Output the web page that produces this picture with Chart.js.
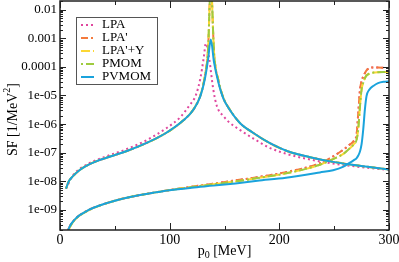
<!DOCTYPE html>
<html>
<head>
<meta charset="utf-8">
<script src="https://cdn.jsdelivr.net/npm/chart.js@4"></script>
<style>
html, body { margin: 0; padding: 0; background: #fff; }
#wrap { width: 399px; height: 262px; position: relative; }
</style>
</head>
<body>
<div id="wrap"><canvas id="sfChart"></canvas></div>
<script>
// pion-like branch (peak near 138 MeV)
var pionP0 = [5.5, 8, 12, 18, 24, 33, 43, 61, 79, 97, 112, 122, 128, 132, 135, 137.5, 140.5, 144.5, 149, 154, 164, 176, 191, 207, 228, 249, 273, 300];
var pionSfPVMOM = [5.6e-9, 1.0e-8, 1.55e-8, 2.5e-8, 3.5e-8, 5.0e-8, 6.8e-8, 1.15e-7, 2.2e-7, 5.0e-7, 1.3e-6, 3.3e-6, 9.5e-6, 3.6e-5, 1.8e-4, 9e-4, 1.4e-4, 2.8e-5, 7.8e-6, 3.5e-6, 1.1e-6, 5.0e-7, 2.2e-7, 1.15e-7, 7.0e-8, 4.8e-8, 3.5e-8, 2.6e-8];
var pionSfPMOM = [5.6e-9, 1.0e-8, 1.55e-8, 2.5e-8, 3.5e-8, 5.0e-8, 6.8e-8, 1.15e-7, 2.2e-7, 5.0e-7, 1.3e-6, 3.4e-6, 1.0e-5, 4.5e-5, 4.0e-4, 8e-2, 3.0e-4, 3.3e-5, 8.2e-6, 3.6e-6, 1.1e-6, 5.0e-7, 2.2e-7, 1.15e-7, 7.0e-8, 4.8e-8, 3.5e-8, 2.6e-8];
var pionP0LPA = [5.5, 12, 24, 42, 60, 79, 97, 110, 118, 124, 128, 131, 133, 136, 139.8, 143, 149, 155, 164, 176, 191, 207, 228, 249, 273, 300];
var pionSfLPA = [5.6e-9, 1.65e-8, 3.8e-8, 7.4e-8, 1.3e-7, 2.75e-7, 7.2e-7, 1.8e-6, 4.5e-6, 1.05e-5, 4.0e-5, 2.0e-4, 6.5e-4, 2.0e-4, 1.6e-5, 4.3e-6, 1.9e-6, 1.1e-6, 6.3e-7, 3.2e-7, 1.5e-7, 9e-8, 5.8e-8, 4.2e-8, 3.2e-8, 2.5e-8];

// sigma-like branch (threshold near 276 MeV)
var sigmaP0 = [7.5, 9, 11, 14, 18, 25, 30, 40, 50, 65, 80, 100, 120, 140, 160, 180, 206, 237, 249, 258, 264, 268, 270.5, 272, 273.5, 275, 276.5, 278, 279.5, 282, 286, 290, 295, 300];
var sigmaSfPVMOM = [2.0e-10, 2.7e-10, 3.6e-10, 4.9e-10, 6.6e-10, 9.5e-10, 1.17e-9, 1.62e-9, 2.1e-9, 2.9e-9, 3.7e-9, 4.9e-9, 6.0e-9, 7.1e-9, 8.5e-9, 1.05e-8, 1.35e-8, 2.05e-8, 2.45e-8, 3.2e-8, 4.4e-8, 5.5e-8, 6.5e-8, 8.0e-8, 1.1e-7, 2.0e-7, 6.5e-7, 3.2e-6, 9.5e-6, 1.6e-5, 2.2e-5, 2.7e-5, 3.0e-5, 3.1e-5];
var sigmaSfLPA = [2.0e-10, 2.7e-10, 3.6e-10, 4.9e-10, 6.6e-10, 9.5e-10, 1.17e-9, 1.62e-9, 2.1e-9, 2.9e-9, 3.7e-9, 5.0e-9, 6.5e-9, 8.3e-9, 1.08e-8, 1.4e-8, 2.1e-8, 4.3e-8, 7.4e-8, 1.25e-7, 1.9e-7, 2.6e-7, 4.5e-7, 2.5e-6, 1.5e-5, 3.2e-5, 4.5e-5, 6.0e-5, 7.6e-5, 9.0e-5, 9.5e-5, 9.5e-5, 9.3e-5, 9.0e-5];
var sigmaSfPMOM = [1.8e-10, 2.5e-10, 3.4e-10, 4.7e-10, 6.4e-10, 9.3e-10, 1.15e-9, 1.6e-9, 2.1e-9, 2.9e-9, 3.7e-9, 4.95e-9, 6.3e-9, 7.9e-9, 1.0e-8, 1.3e-8, 1.9e-8, 3.8e-8, 6.0e-8, 8.9e-8, 1.4e-7, 2.0e-7, 2.9e-7, 7.0e-7, 4.0e-6, 1.6e-5, 2.8e-5, 4.0e-5, 5.0e-5, 5.8e-5, 6.3e-5, 6.5e-5, 6.6e-5, 6.6e-5];

var xTickValues = [0, 50, 100, 150, 200, 250, 300];
var yTickValues = [1e-9, 1e-8, 1e-7, 1e-6, 1e-5, 1e-4, 1e-3, 1e-2];
var yTickLabels = ["1e-09", "1e-08", "1e-07", "1e-06", "1e-05", "0.0001", "0.001", "0.01"];

var serif = "'Liberation Serif', 'DejaVu Serif', serif";

function points(xs, ys) {
    return xs.map(function (x, i) { return { x: x, y: ys[i] }; });
}

var models = [
    { label: "LPA", color: "#e0479e", dash: [2, 3], order: 5, px: pionP0LPA, py: pionSfLPA, sy: sigmaSfLPA },
    { label: "LPA'", color: "#f47a3c", dash: [7, 3, 2, 3], order: 4, px: pionP0, py: pionSfPMOM, sy: sigmaSfLPA },
    { label: "LPA'+Y", color: "#fcd733", dash: [9, 3], order: 3, px: pionP0, py: pionSfPMOM, sy: sigmaSfPMOM },
    { label: "PMOM", color: "#9fcb3f", dash: [2, 3, 8, 3], order: 2, px: pionP0, py: pionSfPMOM, sy: sigmaSfPMOM },
    { label: "PVMOM", color: "#1aa3dc", dash: [], order: 1, px: pionP0, py: pionSfPVMOM, sy: sigmaSfPVMOM }
];

var datasets = [];
models.forEach(function (m) {
    [points(m.px, m.py), points(sigmaP0, m.sy)].forEach(function (d, k) {
        datasets.push({
            label: m.label,
            data: d,
            borderColor: m.color,
            borderDash: m.dash,
            borderWidth: 2,
            pointRadius: 0,
            fill: false,
            cubicInterpolationMode: "monotone",
            order: m.order,
            inLegend: k === 0
        });
    });
});

var framePlugin = {
    id: "frame",
    afterDraw: function (chart) {
        var ctx = chart.ctx;
        var a = chart.chartArea;
        var xs = chart.scales.x, ys = chart.scales.y;
        ctx.save();
        ctx.strokeStyle = "#222";
        ctx.lineWidth = 1;
        ctx.beginPath();
        xTickValues.forEach(function (v) {
            var px = Math.round(xs.getPixelForValue(v)) + 0.5;
            var len = v % 100 === 0 ? 7 : 4;
            ctx.moveTo(px, a.bottom); ctx.lineTo(px, a.bottom - len);
            ctx.moveTo(px, a.top); ctx.lineTo(px, a.top + len);
        });
        for (var e = -10; e <= -2; e++) {
            for (var k = 1; k <= 9; k++) {
                var v = k * Math.pow(10, e);
                if (v < ys.min || v > ys.max) continue;
                var py = Math.round(ys.getPixelForValue(v)) + 0.5;
                var len = k === 1 ? 6 : 3;
                ctx.moveTo(a.left, py); ctx.lineTo(a.left + len, py);
                ctx.moveTo(a.right, py); ctx.lineTo(a.right - len, py);
            }
        }
        ctx.stroke();
        ctx.lineWidth = 1.5;
        ctx.strokeRect(a.left, a.top, a.right - a.left, a.bottom - a.top);

        // axis titles
        ctx.fillStyle = "#000";
        ctx.textBaseline = "alphabetic";
        var big = "14px " + serif, small = "10px " + serif;
        ctx.font = big;
        var w1 = ctx.measureText("p").width, w3 = ctx.measureText(" [MeV]").width;
        ctx.font = small;
        var w2 = ctx.measureText("0").width;
        var x0 = (a.left + a.right) / 2 - (w1 + w2 + w3) / 2;
        ctx.textAlign = "left";
        ctx.font = big; ctx.fillText("p", x0, 255);
        ctx.font = small; ctx.fillText("0", x0 + w1, 258);
        ctx.font = big; ctx.fillText(" [MeV]", x0 + w1 + w2, 255);

        ctx.save();
        ctx.translate(17, (a.top + a.bottom) / 2 + 4);
        ctx.rotate(-Math.PI / 2);
        ctx.font = big;
        var t1 = ctx.measureText("SF [1/MeV").width, t3 = ctx.measureText("]").width;
        ctx.font = small;
        var t2 = ctx.measureText("2").width;
        var s0 = -(t1 + t2 + t3) / 2;
        ctx.font = big; ctx.fillText("SF [1/MeV", s0, 0);
        ctx.font = small; ctx.fillText("2", s0 + t1, -7);
        ctx.font = big; ctx.fillText("]", s0 + t1 + t2, 0);
        ctx.restore();

        // legend
        ctx.fillStyle = "#fff";
        ctx.fillRect(76.5, 17.5, 81, 67);
        ctx.strokeStyle = "#555";
        ctx.lineWidth = 1;
        ctx.strokeRect(76.5, 17.5, 81, 67);
        var row = 0;
        chart.data.datasets.forEach(function (ds) {
            if (!ds.inLegend) return;
            var y = 25 + row * 13;
            ctx.strokeStyle = ds.borderColor;
            ctx.lineWidth = 2;
            ctx.setLineDash(ds.borderDash);
            ctx.beginPath();
            ctx.moveTo(81, y); ctx.lineTo(94, y);
            ctx.stroke();
            ctx.setLineDash([]);
            ctx.fillStyle = "#000";
            ctx.font = "13px " + serif;
            ctx.textBaseline = "middle";
            ctx.fillText(ds.label, 102, y);
            row++;
        });
        ctx.restore();
    }
};

new Chart(document.getElementById("sfChart"), {
    type: "line",
    data: { datasets: datasets },
    options: {
        responsive: true,
        maintainAspectRatio: false,
        animation: false,
        devicePixelRatio: 1,
        layout: { padding: { top: 1, right: 10, left: 0, bottom: 0 } },
        plugins: {
            legend: { display: false },
            tooltip: { enabled: false }
        },
        scales: {
            x: {
                type: "linear",
                min: 0,
                max: 300,
                grid: { display: false, drawTicks: false },
                border: { display: false },
                afterBuildTicks: function (s) {
                    s.ticks = xTickValues.map(function (v) { return { value: v }; });
                },
                afterFit: function (s) {
                    s.height = 32;
                    s.paddingLeft = 0;
                    s.paddingRight = 0;
                },
                ticks: {
                    autoSkip: false,
                    maxRotation: 0,
                    padding: 2,
                    color: "#000",
                    font: { family: serif, size: 14 },
                    callback: function (v) { return v % 100 === 0 ? String(v) : ""; }
                }
            },
            y: {
                type: "logarithmic",
                min: 2e-10,
                max: 0.02,
                grid: { display: false, drawTicks: false },
                border: { display: false },
                afterBuildTicks: function (s) {
                    s.ticks = yTickValues.map(function (v) { return { value: v }; });
                },
                afterFit: function (s) {
                    s.width = 60;
                    s.paddingTop = 0;
                    s.paddingBottom = 0;
                },
                ticks: {
                    autoSkip: false,
                    padding: 3,
                    color: "#000",
                    font: { family: serif, size: 13 },
                    callback: function (v, i) { return yTickLabels[i]; }
                }
            }
        }
    },
    plugins: [framePlugin]
});
</script>
</body>
</html>
